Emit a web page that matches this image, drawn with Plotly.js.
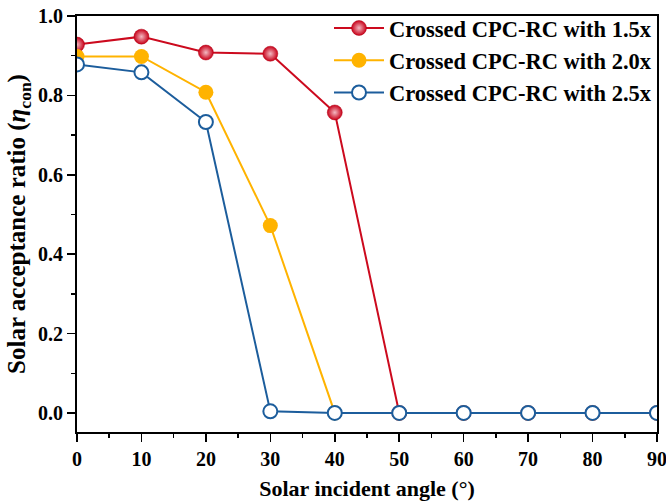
<!DOCTYPE html>
<html>
<head>
<meta charset="utf-8">
<script src="https://cdn.plot.ly/plotly-3.0.1.min.js"></script>
<style>html,body{margin:0;padding:0;background:#fff;}#chart{width:666px;height:502px;}</style>
</head>
<body>
<div id="chart"></div>
<script>
var angles = [0, 10, 20, 30, 40, 50, 60, 70, 80, 90];
var ratio15 = [0.928, 0.948, 0.908, 0.905, 0.757, 0.0, 0.0, 0.0, 0.0, 0.0];
var ratio20 = [0.898, 0.898, 0.808, 0.472, 0.0, 0.0, 0.0, 0.0, 0.0, 0.0];
var ratio25 = [0.878, 0.858, 0.733, 0.004, 0.0, 0.0, 0.0, 0.0, 0.0, 0.0];
var names = ["Crossed CPC-RC with 1.5x", "Crossed CPC-RC with 2.0x", "Crossed CPC-RC with 2.5x"];
var xTicks = [0, 10, 20, 30, 40, 50, 60, 70, 80, 90];
var yTicks = [0.0, 0.2, 0.4, 0.6, 0.8, 1.0];
var yTickText = ['0.0', '0.2', '0.4', '0.6', '0.8', '1.0'];

var font = "'Liberation Serif', 'Times New Roman', serif";
var traces = [
  {x: angles, y: ratio15, name: names[0], type: 'scatter', mode: 'lines+markers',
   line: {color: '#cc0a1e', width: 2},
   marker: {size: 15, color: '#c80018', gradient: {type: 'radial', color: '#f3b9c2'}, line: {color: '#b00015', width: 0.5}}},
  {x: angles, y: ratio20, name: names[1], type: 'scatter', mode: 'lines+markers',
   line: {color: '#ffb300', width: 2},
   marker: {size: 15, color: '#ffb300', line: {color: '#ffb300', width: 0}}},
  {x: angles, y: ratio25, name: names[2], type: 'scatter', mode: 'lines+markers',
   line: {color: '#1c5d9c', width: 2},
   marker: {size: 14, color: '#ffffff', line: {color: '#1c5d9c', width: 2}}}
];

var layout = {
  width: 666, height: 502,
  margin: {l: 77, r: 9, t: 16, b: 70, autoexpand: false},
  paper_bgcolor: '#fff', plot_bgcolor: '#fff',
  font: {family: font, color: '#000', size: 20},
  showlegend: true,
  legend: {x: 1, xanchor: 'right', y: 1.022, yanchor: 'top', bgcolor: 'rgba(255,255,255,0)',
           font: {family: font, size: 22.5, color: '#000', weight: 'bold'}, tracegroupgap: 0, itemwidth: 50},
  xaxis: {
    range: [0, 90], tickvals: xTicks, ticktext: xTicks.map(String),
    ticks: 'outside', ticklen: 8, tickwidth: 1.5, tickcolor: '#000',
    minor: {dtick: 5, ticks: 'outside', ticklen: 4, tickwidth: 1.5, tickcolor: '#000', showgrid: false},
    showline: true, linecolor: '#000', linewidth: 2, mirror: true,
    showgrid: false, zeroline: false, ticklabeloverflow: 'allow',
    tickfont: {family: font, size: 20, weight: 'bold'},
    title: {text: 'Solar incident angle (°)', font: {family: font, size: 22, weight: 'bold'}, standoff: 12}
  },
  yaxis: {
    range: [-0.048, 1.0], tickvals: yTicks, ticktext: yTickText,
    ticks: 'outside', ticklen: 8, tickwidth: 1.5, tickcolor: '#000',
    minor: {tickvals: [0.1, 0.3, 0.5, 0.7, 0.9], ticks: 'outside', ticklen: 4, tickwidth: 1.5, tickcolor: '#000', showgrid: false},
    showline: true, linecolor: '#000', linewidth: 2, mirror: true,
    showgrid: false, zeroline: false,
    tickfont: {family: font, size: 20, weight: 'bold'},
    title: {text: 'Solar acceptance ratio (<i>η</i><sub>con</sub>)', font: {family: font, size: 25, weight: 'bold'}, standoff: 5}
  }
};

Plotly.newPlot('chart', traces, layout, {displayModeBar: false, staticPlot: true});
</script>
</body>
</html>
